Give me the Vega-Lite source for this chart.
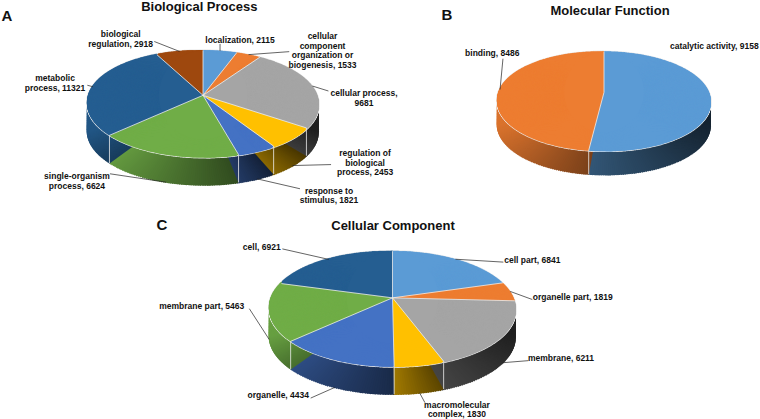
{
"$schema":"https://vega.github.io/schema/vega-lite/v6.json",
"autosize":{"type":"fit","contains":"padding"},
"width":760,"height":419,"padding":0,"background":"white",
"config":{"view":{"stroke":null}},
"data":{"values":[
{"panel":"A","ord":0,"category":"localization","value":2115,"label":"localization, 2115"},
{"panel":"A","ord":1,"category":"cellular component organization or biogenesis","value":1533,"label":"cellular\ncomponent\norganization or\nbiogenesis, 1533"},
{"panel":"A","ord":2,"category":"cellular process","value":9681,"label":"cellular process,\n9681"},
{"panel":"A","ord":3,"category":"regulation of biological process","value":2453,"label":"regulation of\nbiological\nprocess, 2453"},
{"panel":"A","ord":4,"category":"response to stimulus","value":1821,"label":"response to\nstimulus, 1821"},
{"panel":"A","ord":5,"category":"single-organism process","value":6624,"label":"single-organism\nprocess, 6624"},
{"panel":"A","ord":6,"category":"metabolic process","value":11321,"label":"metabolic\nprocess, 11321"},
{"panel":"A","ord":7,"category":"biological regulation","value":2918,"label":"biological\nregulation, 2918"},
{"panel":"B","ord":0,"category":"catalytic activity","value":9158,"label":"catalytic activity, 9158"},
{"panel":"B","ord":1,"category":"binding","value":8486,"label":"binding, 8486"},
{"panel":"C","ord":0,"category":"cell part","value":6841,"label":"cell part, 6841"},
{"panel":"C","ord":1,"category":"organelle part","value":1819,"label":"organelle part, 1819"},
{"panel":"C","ord":2,"category":"membrane","value":6211,"label":"membrane, 6211"},
{"panel":"C","ord":3,"category":"macromolecular complex","value":1830,"label":"macromolecular\ncomplex, 1830"},
{"panel":"C","ord":4,"category":"organelle","value":4434,"label":"organelle, 4434"},
{"panel":"C","ord":5,"category":"membrane part","value":5463,"label":"membrane part, 5463"},
{"panel":"C","ord":6,"category":"cell","value":6921,"label":"cell, 6921"}
]},
"transform":[
{"stack":"value","groupby":["panel"],"sort":[{"field":"ord","order":"ascending"}],"as":["s0","s1"]},
{"joinaggregate":[{"op":"sum","field":"value","as":"total"}],"groupby":["panel"]},
{"calculate":"360*datum.s0/datum.total","as":"t0"},
{"calculate":"360*datum.s1/datum.total","as":"t1"},
{"calculate":"{A:203,B:604,C:392.5}[datum.panel]","as":"ax"},
{"calculate":"{A:104.5,B:102,C:311}[datum.panel]","as":"yc"},
{"calculate":"{A:116,B:107,C:123.5}[datum.panel]","as":"a"},
{"calculate":"{A:53.8,B:50,C:58}[datum.panel]","as":"b"},
{"calculate":"{A:8.5,B:9,C:11}[datum.panel]","as":"e"},
{"calculate":"{A:28,B:24,C:28}[datum.panel]","as":"d"},
{"calculate":"datum.e/datum.b","as":"g"},
{"calculate":"datum.a*sqrt(1-datum.g*datum.g)","as":"ap"},
{"calculate":"datum.yc-datum.e","as":"ay"},
{"calculate":"90+asin(datum.g)*180/PI","as":"te"},
{"calculate":"360-datum.te","as":"ite"},
{"calculate":"['#5b9bd5','#ed7d31','#a5a5a5','#ffc000','#4472c4','#70ad47','#255e91','#9e480e'][datum.ord]","as":"base"},
{"calculate":"[0.72,1,0.62,0.85,0.75,1,1,1][datum.ord]","as":"f"}
],
"encoding":{
"x":{"field":"ax","type":"quantitative","stack":false,"scale":{"domain":[0,760],"nice":false,"zero":false},"axis":null},
"y":{"field":"ay","type":"quantitative","stack":false,"scale":{"domain":[419,0],"nice":false,"zero":false},"axis":null}
},
"layer":[
{
"transform":[
{"calculate":"datum.t0<=datum.te&&datum.t1>datum.te?datum.te-40:max(datum.t0,datum.te)","as":"lo"},
{"calculate":"datum.t0<datum.ite&&datum.t1>=datum.ite?datum.ite+40:min(datum.t1,datum.ite)","as":"hi"},
{"filter":"datum.hi>datum.lo"},
{"calculate":"max(datum.t0,datum.te)","as":"cl"},
{"calculate":"min(datum.t1,datum.ite)","as":"ch"},
{"calculate":"sequence(0,ceil(datum.hi-datum.lo))","as":"i"},
{"flatten":["i"]},
{"calculate":"datum.lo+datum.i*(datum.hi-datum.lo)/ceil(datum.hi-datum.lo)","as":"va"},
{"calculate":"datum.lo+(datum.i+1)*(datum.hi-datum.lo)/ceil(datum.hi-datum.lo)","as":"vb"},
{"calculate":"datum.va<datum.te?datum.a:datum.va>datum.ite?-datum.a:datum.ap*sin(datum.va*PI/180)/(1+datum.g*cos(datum.va*PI/180))","as":"xa"},
{"calculate":"datum.vb<datum.te?datum.a:datum.vb>datum.ite?-datum.a:datum.ap*sin(datum.vb*PI/180)/(1+datum.g*cos(datum.vb*PI/180))","as":"xb"},
{"calculate":"datum.va<datum.te?datum.e+datum.d*(1-(datum.te-datum.va)/40):datum.va>datum.ite?datum.e+datum.d*(1-(datum.va-datum.ite)/40):(-datum.b*cos(datum.va*PI/180)-datum.e)/(1+datum.g*cos(datum.va*PI/180))+datum.e+datum.d","as":"ya"},
{"calculate":"datum.vb<datum.te?datum.e+datum.d*(1-(datum.te-datum.vb)/40):datum.vb>datum.ite?datum.e+datum.d*(1-(datum.vb-datum.ite)/40):(-datum.b*cos(datum.vb*PI/180)-datum.e)/(1+datum.g*cos(datum.vb*PI/180))+datum.e+datum.d","as":"yb"},
{"calculate":"atan2(datum.xa,-datum.ya)+(datum.xa<0?2*PI:0)","as":"phi0"},
{"calculate":"atan2(datum.xb,-datum.yb)+(datum.xb<0?2*PI:0)+0.015","as":"phi1"},
{"calculate":"(sqrt(datum.xa*datum.xa+datum.ya*datum.ya)+sqrt(datum.xb*datum.xb+datum.yb*datum.yb))/2","as":"r"},
{"calculate":"datum.ch>datum.cl?1-(clamp((datum.va+datum.vb)/2,datum.cl,datum.ch)-datum.cl)/(datum.ch-datum.cl):0","as":"wf"},
{"calculate":"(datum.xa+datum.a)/(2*datum.a)","as":"xn"},
{"calculate":"datum.f*(0.92-0.25*datum.wf-0.35*datum.xn)","as":"k"},
{"calculate":"'rgb('+round(datum.k*rgb(datum.base).r)+','+round(datum.k*rgb(datum.base).g)+','+round(datum.k*rgb(datum.base).b)+')'","as":"wc"}
],
"mark":{"type":"arc"},
"encoding":{
"theta":{"field":"phi0","type":"quantitative","scale":null,"stack":false},
"theta2":{"field":"phi1"},
"radius":{"field":"r","type":"quantitative","scale":null},
"fill":{"field":"wc","type":"nominal","scale":null}
}
},
{
"transform":[
{"calculate":"ceil(2*(datum.t1-datum.t0))","as":"n"},
{"calculate":"sequence(0,datum.n)","as":"i"},
{"flatten":["i"]},
{"calculate":"datum.t0+datum.i*(datum.t1-datum.t0)/datum.n","as":"va"},
{"calculate":"datum.t0+(datum.i+1)*(datum.t1-datum.t0)/datum.n","as":"vb"},
{"calculate":"datum.ap*sin(datum.va*PI/180)/(1+datum.g*cos(datum.va*PI/180))","as":"xa"},
{"calculate":"datum.ap*sin(datum.vb*PI/180)/(1+datum.g*cos(datum.vb*PI/180))","as":"xb"},
{"calculate":"(-datum.b*cos(datum.va*PI/180)-datum.e)/(1+datum.g*cos(datum.va*PI/180))+datum.e","as":"ya"},
{"calculate":"(-datum.b*cos(datum.vb*PI/180)-datum.e)/(1+datum.g*cos(datum.vb*PI/180))+datum.e","as":"yb"},
{"calculate":"atan2(datum.xa,-datum.ya)+(datum.xa<0?2*PI:0)","as":"phi0"},
{"calculate":"atan2(datum.xb,-datum.yb)+(datum.xb<0?2*PI:0)+(datum.vb<datum.t1-0.001?0.02:0)","as":"phi1"},
{"calculate":"(sqrt(datum.xa*datum.xa+datum.ya*datum.ya)+sqrt(datum.xb*datum.xb+datum.yb*datum.yb))/2","as":"r"},
{"calculate":"datum.r+0.7","as":"rr"}
],
"layer":[
{"mark":{"type":"arc","fill":"#eeeeee"},
"encoding":{
"theta":{"field":"phi0","type":"quantitative","scale":null,"stack":false},
"theta2":{"field":"phi1"},
"radius":{"field":"rr","type":"quantitative","scale":null}
}},
{"mark":{"type":"arc"},
"encoding":{
"theta":{"field":"phi0","type":"quantitative","scale":null,"stack":false},
"theta2":{"field":"phi1"},
"radius":{"field":"r","type":"quantitative","scale":null},
"fill":{"field":"ord","type":"nominal","scale":{"domain":[0,1,2,3,4,5,6,7],"range":["#5b9bd5","#ed7d31","#a5a5a5","#ffc000","#4472c4","#70ad47","#255e91","#9e480e"]},"legend":null}
}}
]
},
{
"transform":[
{"calculate":"datum.ap*sin(datum.t0*PI/180)/(1+datum.g*cos(datum.t0*PI/180))","as":"xa"},
{"calculate":"datum.ap*sin(datum.t1*PI/180)/(1+datum.g*cos(datum.t1*PI/180))","as":"xb"},
{"calculate":"(-datum.b*cos(datum.t0*PI/180)-datum.e)/(1+datum.g*cos(datum.t0*PI/180))+datum.e","as":"ya"},
{"calculate":"(-datum.b*cos(datum.t1*PI/180)-datum.e)/(1+datum.g*cos(datum.t1*PI/180))+datum.e","as":"yb"},
{"calculate":"atan2(datum.xa,-datum.ya)+(datum.xa<0?2*PI:0)","as":"phi0"},
{"calculate":"atan2(datum.xb,-datum.yb)+(datum.xb<0?2*PI:0)","as":"phi1"},
{"calculate":"datum.b-datum.e-1","as":"r"}
],
"mark":{"type":"arc"},
"encoding":{
"theta":{"field":"phi0","type":"quantitative","scale":null,"stack":false},
"theta2":{"field":"phi1"},
"radius":{"field":"r","type":"quantitative","scale":null},
"fill":{"field":"ord","type":"nominal","scale":{"domain":[0,1,2,3,4,5,6,7],"range":["#5b9bd5","#ed7d31","#a5a5a5","#ffc000","#4472c4","#70ad47","#255e91","#9e480e"]},"legend":null}
}
},
{
"transform":[
{"calculate":"datum.ap*sin(datum.t0*PI/180)/(1+datum.g*cos(datum.t0*PI/180))","as":"ex"},
{"calculate":"(-datum.b*cos(datum.t0*PI/180)-datum.e)/(1+datum.g*cos(datum.t0*PI/180))+datum.e","as":"ey"},
{"calculate":"datum.ax+datum.ex","as":"x2v"},
{"calculate":"datum.ay+datum.ey","as":"y2v"},
{"calculate":"datum.y2v+datum.d","as":"y3v"}
],
"layer":[
{"mark":{"type":"rule","stroke":"#eeeeee","strokeWidth":0.8},
"encoding":{"x2":{"field":"x2v"},"y2":{"field":"y2v"}}},
{"transform":[{"filter":"datum.t0>datum.te&&datum.t0<datum.ite"}],
"mark":{"type":"rule","stroke":"#eeeeee","strokeWidth":0.8},
"encoding":{
"x":{"field":"x2v","type":"quantitative","stack":false},
"y":{"field":"y2v","type":"quantitative","stack":false},
"y2":{"field":"y3v"}}}
]
},
{
"transform":[
{"calculate":"(datum.t0+datum.t1)/2","as":"tm"},
{"calculate":"datum.ax+datum.ap*sin(datum.tm*PI/180)/(1+datum.g*cos(datum.tm*PI/180))","as":"nx"},
{"calculate":"datum.ay+(-datum.b*cos(datum.tm*PI/180)-datum.e)/(1+datum.g*cos(datum.tm*PI/180))+datum.e+(datum.tm>datum.te&&datum.tm<datum.ite?datum.d:0)","as":"ny"},
{"calculate":"{A:[[20,-11,0,-7],[74,-18.6,40.7,-3],[51.6,7,16,5],[72.6,-12.7,38.6,-1],[72,11.8,43,10],[-89.4,-5.8,-56.4,-8.5],[-38,-8.8,-5.7,-1.5],[-58.9,-17.5,-25.3,-10]],B:[[4.1,-49.9,0,0],[-7.8,-36.9,2.9,-31]],C:[[76.9,0.6,47.9,2.9],[62.4,5.4,22,8.1],[58.5,-4.4,25.8,-2.1],[37.4,11.9,5.4,10],[-56.4,8,-24,10.7],[-67.4,-33.6,-19.8,-30.9],[-67.1,-13,-46.5,-10.6]]}[datum.panel][datum.ord]","as":"off"},
{"calculate":"datum.nx+datum.off[0]","as":"lx"},
{"calculate":"datum.ny+datum.off[1]","as":"ly"},
{"calculate":"datum.nx+datum.off[2]","as":"ex"},
{"calculate":"datum.ny+datum.off[3]","as":"ey"}
],
"layer":[
{"transform":[{"filter":"datum.off[2]!=0||datum.off[3]!=0"}],
"mark":{"type":"rule","stroke":"#222222","strokeWidth":0.7},
"encoding":{
"x":{"field":"nx","type":"quantitative","stack":false},
"y":{"field":"ny","type":"quantitative","stack":false},
"x2":{"field":"ex"},"y2":{"field":"ey"}}},
{"mark":{"type":"text","font":"Liberation Sans","fontWeight":"bold","fontSize":8.5,"lineHeight":9.6,"lineBreak":"\n","align":"center","baseline":"middle","fill":"#111111"},
"encoding":{
"x":{"field":"lx","type":"quantitative","stack":false},
"y":{"field":"ly","type":"quantitative","stack":false},
"text":{"field":"label","type":"nominal"}}}
]
},
{
"data":{"values":[
{"panel":"A","title":"Biological Process","letter":"A"},
{"panel":"B","title":"Molecular Function","letter":"B"},
{"panel":"C","title":"Cellular Component","letter":"C"}
]},
"transform":[
{"calculate":"{A:199.3,B:610,C:393}[datum.panel]","as":"tx"},
{"calculate":"{A:7.3,B:11.5,C:227.7}[datum.panel]","as":"ty"},
{"calculate":"{A:7,B:447,C:162}[datum.panel]","as":"px"},
{"calculate":"{A:15.7,B:15,C:227}[datum.panel]","as":"py"}
],
"layer":[
{"mark":{"type":"text","font":"Liberation Sans","fontWeight":"bold","fontSize":13,"align":"center","baseline":"middle","fill":"#111111"},
"encoding":{
"x":{"field":"tx","type":"quantitative","stack":false},
"y":{"field":"ty","type":"quantitative","stack":false},
"text":{"field":"title","type":"nominal"}}},
{"mark":{"type":"text","font":"Liberation Sans","fontWeight":"bold","fontSize":15,"align":"center","baseline":"middle","fill":"#111111"},
"encoding":{
"x":{"field":"px","type":"quantitative","stack":false},
"y":{"field":"py","type":"quantitative","stack":false},
"text":{"field":"letter","type":"nominal"}}}
]
}
]
}
